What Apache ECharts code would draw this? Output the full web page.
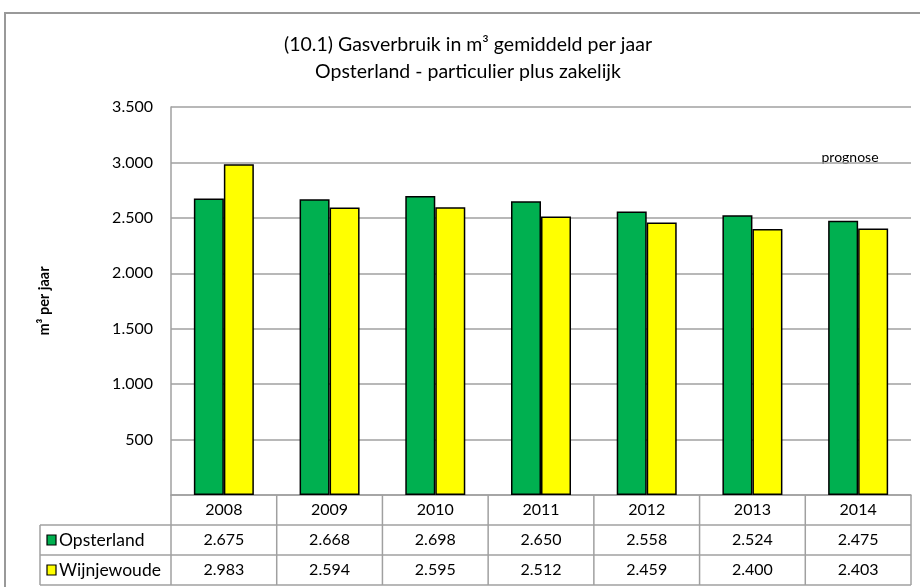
<!DOCTYPE html>
<html>
<head>
<meta charset="utf-8">
<script src="https://cdn.jsdelivr.net/npm/echarts@6/dist/echarts.min.js"></script>
<style>
  html,body{margin:0;padding:0;background:#fff;}
  #chart{width:920px;height:587px;}
</style>
</head>
<body>
<div id="chart"></div>
<script>
// data
var years = ['2008','2009','2010','2011','2012','2013','2014'];
var opsterland = [2675, 2668, 2698, 2650, 2558, 2524, 2475];
var wijnjewoude = [2983, 2594, 2595, 2512, 2459, 2400, 2403];
var seriesNames = ['Opsterland', 'Wijnjewoude'];
var seriesColors = ['#00B050', '#FFFF00'];

var FONT = 'Lato, "Open Sans", sans-serif';
var gridL = 171, gridR = 911, gridT = 107, gridB = 495;
var rowH = 30, tableL = 40;
var lineCol = '#a0a0a0';

// 2675 -> 2.675
function fmt(v){
    var s = String(v);
    return s.replace(/\B(?=(\d{3})+(?!\d))/g, '.');
}

// tabel onder de grafiek
function buildTable(){
    var els = [];
    var cw = (gridR - gridL) / years.length;
    var rows = [opsterland, wijnjewoude];
    var yEnd = gridB + rowH * 3;
    //horizontale lijnen
    for (var r = 1; r <= 3; r++) {
        var y = gridB + r * rowH;
        els.push({type:'line', shape:{x1:tableL, y1:y, x2:gridR, y2:y}, style:{stroke:lineCol, lineWidth:1.5}});
    }
    //verticale lijnen
    for (var i = 0; i <= years.length; i++) {
        var x = gridL + i * cw;
        els.push({type:'line', shape:{x1:x, y1:gridB, x2:x, y2:yEnd}, style:{stroke:lineCol, lineWidth:1.5}});
    }
    els.push({type:'line', shape:{x1:tableL, y1:gridB + rowH, x2:tableL, y2:yEnd}, style:{stroke:lineCol, lineWidth:1.5}});
    //jaartallen
    for (var i = 0; i < years.length; i++) {
        els.push({type:'text', x:gridL + (i + 0.5) * cw, y:gridB + rowH / 2,
            style:{text:years[i], font:'16px ' + FONT, fill:'#000', textAlign:'center', textVerticalAlign:'middle'}});
    }
    //waarden
    for (var r = 0; r < rows.length; r++) {
        var cy = gridB + (r + 1.5) * rowH;
        els.push({type:'rect', shape:{x:47, y:cy - 5, width:9, height:10},
            style:{fill:seriesColors[r], stroke:'#000', lineWidth:1.2}});
        els.push({type:'text', x:59, y:cy,
            style:{text:seriesNames[r], font:'17.5px ' + FONT, fill:'#000', textAlign:'left', textVerticalAlign:'middle'}});
        for (var i = 0; i < years.length; i++) {
            els.push({type:'text', x:gridL + (i + 0.5) * cw, y:cy,
                style:{text:fmt(rows[r][i]), font:'16px ' + FONT, fill:'#000', textAlign:'center', textVerticalAlign:'middle'}});
        }
    }
    return els;
}

var graphics = [
    //kader
    {type:'rect', shape:{x:5, y:13, width:930, height:600}, style:{fill:'none', stroke:'#999', lineWidth:2}},
    {type:'text', x:850, y:157, style:{text:'prognose', font:'14px ' + FONT, fill:'#000', textAlign:'center', textVerticalAlign:'middle'}}
].concat(buildTable());

var option = {
    animation: false,
    backgroundColor: '#fff',
    title: {
        text: '(10.1) Gasverbruik in m³ gemiddeld per jaar\nOpsterland - particulier plus zakelijk',
        left: 463, top: 26, textAlign: 'center',
        textStyle: {fontFamily: FONT, fontSize: 19.5, fontWeight: 'normal', color: '#000', lineHeight: 27}
    },
    grid: {left: gridL, right: 920 - gridR, top: gridT, bottom: 587 - gridB},
    xAxis: {
        type: 'category',
        data: years,
        axisLine: {show: true, lineStyle: {color: lineCol, width: 1.5}},
        axisTick: {show: false},
        axisLabel: {show: false}
    },
    yAxis: {
        type: 'value',
        min: 0, max: 3500, interval: 500,
        name: 'm³ per jaar',
        nameLocation: 'middle',
        nameGap: 119,
        nameRotate: 90,
        nameTextStyle: {fontFamily: FONT, fontSize: 14.5, fontWeight: 'bold', color: '#000'},
        axisLine: {show: true, lineStyle: {color: lineCol, width: 1.5}},
        axisTick: {show: false},
        splitLine: {lineStyle: {color: lineCol, width: 1.5}},
        axisLabel: {
            margin: 18, fontFamily: FONT, fontSize: 16, color: '#000',
            formatter: function(v){ return v === 0 ? '' : fmt(v); }
        }
    },
    series: [
        {name: seriesNames[0], type: 'bar', data: opsterland, barWidth: 30, barGap: '0%',
         itemStyle: {color: seriesColors[0], borderColor: '#000', borderWidth: 1.5}},
        {name: seriesNames[1], type: 'bar', data: wijnjewoude, barWidth: 30, barGap: '0%',
         itemStyle: {color: seriesColors[1], borderColor: '#000', borderWidth: 1.5}}
    ],
    graphic: graphics
};

var chart = echarts.init(document.getElementById('chart'));
chart.setOption(option);
</script>
</body>
</html>
